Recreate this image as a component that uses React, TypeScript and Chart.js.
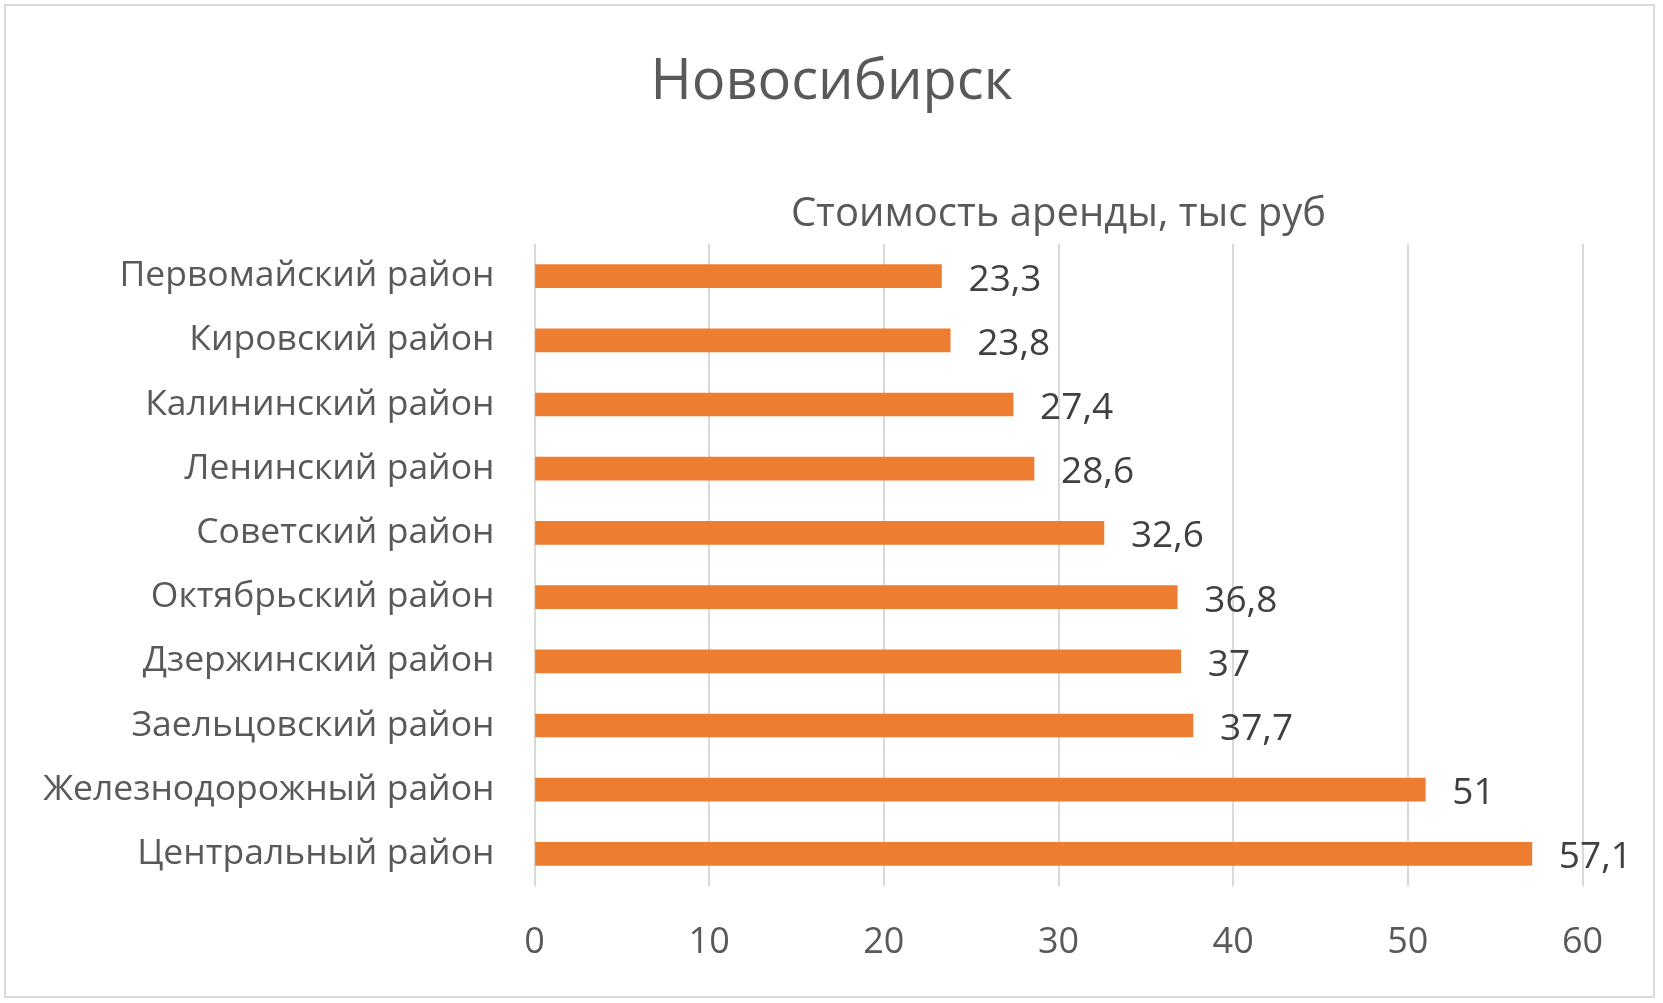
import React, { useEffect, useRef } from 'react';
import { Chart, registerables } from 'chart.js';

Chart.register(...registerables);

const chartTitle = 'Новосибирск';
const seriesName = 'Стоимость аренды, тыс руб';
const districts = [
  'Первомайский район',
  'Кировский район',
  'Калининский район',
  'Ленинский район',
  'Советский район',
  'Октябрьский район',
  'Дзержинский район',
  'Заельцовский район',
  'Железнодорожный район',
  'Центральный район',
];
const rentValues = [23.3, 23.8, 27.4, 28.6, 32.6, 36.8, 37, 37.7, 51, 57.1];
const xMin = 0;
const xMax = 60;
const xStep = 10;

const FONT = '"Open Sans", "Noto Sans", sans-serif';
const fmt = (v: number) => String(v).replace('.', ',');

const overlay = {
  id: 'overlay',
  afterDraw(chart: any) {
    const ctx = chart.ctx as CanvasRenderingContext2D;
    const area = chart.chartArea;
    ctx.save();
    ctx.fillStyle = '#595959';
    ctx.textAlign = 'center';
    ctx.textBaseline = 'alphabetic';
    ctx.font = `500 56px ${FONT}`;
    ctx.fillText(chartTitle, chart.width / 2, 99);
    ctx.font = `500 40px ${FONT}`;
    ctx.fillText(seriesName, (area.left + area.right) / 2, 226);
    const meta = chart.getDatasetMeta(0);
    ctx.font = `500 37px ${FONT}`;
    ctx.fillStyle = '#404040';
    ctx.textAlign = 'left';
    ctx.textBaseline = 'middle';
    meta.data.forEach((bar: any, i: number) => {
      ctx.fillText(fmt(rentValues[i]), bar.x + 27, bar.y + 4);
    });
    ctx.restore();
  },
};

export default function App() {
  const ref = useRef<HTMLCanvasElement | null>(null);
  useEffect(() => {
    if (!ref.current) return;
    const tickSize = 35.5;
    const lh = tickSize * 1.2;
    const chart = new Chart(ref.current, {
      type: 'bar',
      data: {
        labels: districts,
        datasets: [
          {
            label: seriesName,
            data: rentValues,
            backgroundColor: '#ED7D31',
            borderWidth: 0,
            barThickness: 23,
          },
        ],
      },
      options: {
        indexAxis: 'y',
        responsive: false,
        animation: false,
        maintainAspectRatio: false,
        layout: { padding: { top: 244, right: 80.5, left: 0, bottom: 0 } },
        plugins: {
          legend: { display: false },
          title: { display: false },
          tooltip: { enabled: false },
        },
        scales: {
          x: {
            type: 'linear',
            position: 'bottom',
            min: xMin,
            max: xMax,
            ticks: {
              stepSize: xStep,
              color: '#595959',
              font: { family: FONT, size: 36, weight: '500' as any },
              padding: 943 - 886 - (36 * 1.2) / 2,
            },
            grid: { color: '#d9d9d9', lineWidth: 2, drawTicks: false },
            border: { display: false },
            afterFit: (s: any) => {
              s.height = 1003 - 886;
            },
          },
          y: {
            ticks: {
              color: '#595959',
              font: { family: FONT, size: tickSize, weight: '500' as any },
              padding: 40,
            },
            grid: { display: false, drawTicks: false },
            border: { display: false },
            afterFit: (s: any) => {
              s.width = 534.5;
            },
          },
        },
      },
      plugins: [overlay],
    });
    return () => chart.destroy();
  }, []);
  return (
    <div style={{ position: 'absolute', left: 0, top: 0, width: 1663, height: 1003, background: '#fff' }}>
      <canvas ref={ref} width={1663} height={1003} style={{ position: 'absolute', left: 0, top: 0 }} />
      <div
        style={{
          position: 'absolute',
          left: 4,
          top: 4,
          width: 1651,
          height: 994,
          border: '2px solid #d9d9d9',
          boxSizing: 'border-box',
          pointerEvents: 'none',
        }}
      />
    </div>
  );
}
